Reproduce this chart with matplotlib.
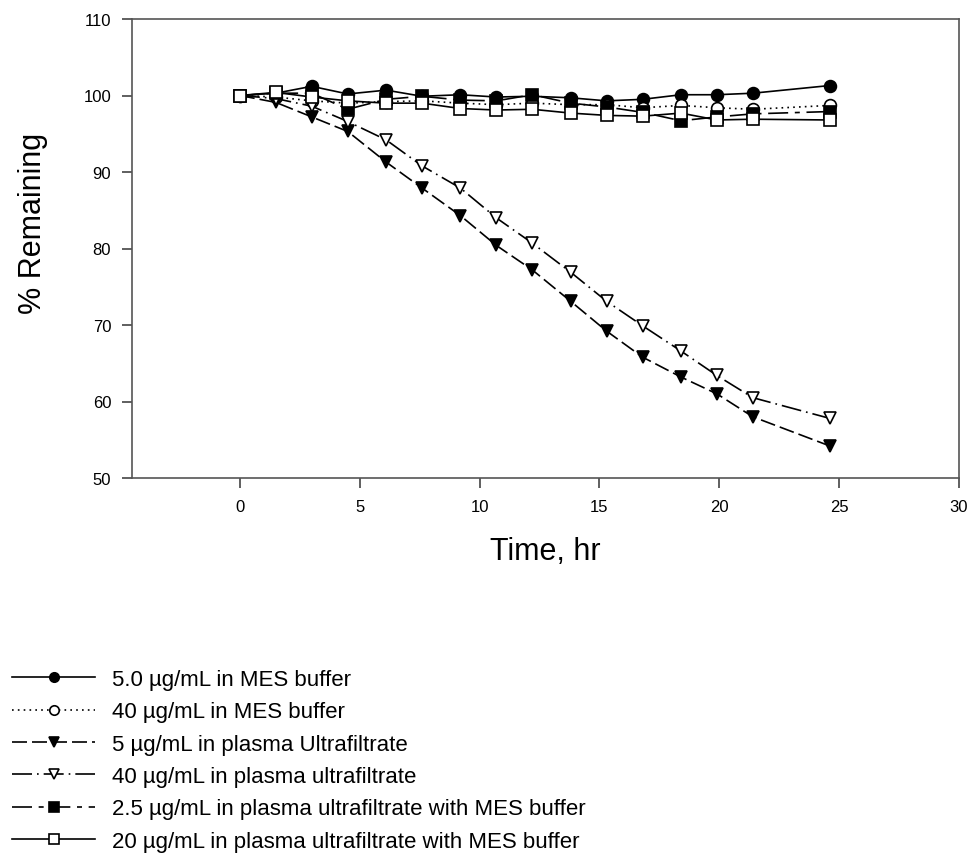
import matplotlib
matplotlib.use("Agg")
import matplotlib.pyplot as plt

plt.rcParams['font.family'] = ['Liberation Sans', 'DejaVu Sans']

time = [0, 1.5, 3.0, 4.5, 6.1, 7.6, 9.2, 10.7, 12.2, 13.8, 15.3, 16.8, 18.4, 19.9, 21.4, 24.6]

mes_5 = [100, 100.3, 101.2, 100.2, 100.7, 99.9, 100.1, 99.8, 99.9, 99.7, 99.3, 99.5, 100.1, 100.1, 100.3, 101.3]
mes_40 = [100, 99.8, 99.3, 99.0, 99.2, 99.3, 99.0, 98.8, 99.0, 98.8, 98.8, 98.4, 98.7, 98.4, 98.2, 98.7]
puf_5 = [100, 99.1, 97.2, 95.3, 91.3, 87.9, 84.3, 80.4, 77.2, 73.1, 69.2, 65.8, 63.2, 61.0, 58.0, 54.2]
puf_40 = [100, 99.6, 98.6, 96.6, 94.2, 90.8, 87.9, 84.0, 80.7, 76.9, 73.1, 69.9, 66.6, 63.4, 60.5, 57.8]
pufmes_25 = [100, 100.3, 100.3, 98.2, 99.5, 99.9, 99.4, 99.3, 100.1, 99.0, 98.5, 97.8, 96.7, 97.2, 97.6, 97.9]
pufmes_20 = [100, 100.4, 99.8, 99.3, 99.0, 99.0, 98.3, 98.1, 98.2, 97.7, 97.4, 97.3, 97.7, 96.8, 96.9, 96.8]

labels = [
    "5.0 \u00b5g/mL in MES buffer",
    "40 \u00b5g/mL in MES buffer",
    "5 \u00b5g/mL in plasma Ultrafiltrate",
    "40 \u00b5g/mL in plasma ultrafiltrate",
    "2.5 \u00b5g/mL in plasma ultrafiltrate with MES buffer",
    "20 \u00b5g/mL in plasma ultrafiltrate with MES buffer",
]
series = [mes_5, mes_40, puf_5, puf_40, pufmes_25, pufmes_20]
styles = [
    dict(marker='o', mfc='black', ls='-'),
    dict(marker='o', mfc='white', ls=(0, (1, 2.5))),
    dict(marker='v', mfc='black', ls=(0, (9, 3))),
    dict(marker='v', mfc='white', ls=(0, (12, 3, 1, 3))),
    dict(marker='s', mfc='black', ls=(0, (12, 4, 3, 4))),
    dict(marker='s', mfc='white', ls='-'),
]

fig = plt.figure(figsize=(9.72, 8.54), dpi=100)
ax = fig.add_axes([132/972, 1-479/854, (959-132)/972, (479-20)/854])

for y, lab, st in zip(series, labels, styles):
    ax.plot(time, y, color='black', lw=1.2, ms=8.5, mec='black', mew=1.2,
            label=lab, **st)

ax.set_xlim(-4.5, 30)
ax.set_ylim(50, 110)
ax.set_xticks([0, 5, 10, 15, 20, 25, 30])
ax.set_yticks([50, 60, 70, 80, 90, 100, 110])
ax.tick_params(direction='out', length=7, width=1.2, labelsize=12, pad=8, color='#444444')
for sp in ax.spines.values():
    sp.set_color('#555555')
    sp.set_linewidth(1.2)

ax.set_xlabel("Time, hr", fontsize=22, labelpad=16)
ax.set_ylabel("% Remaining", fontsize=22)
ax.yaxis.set_label_coords((48-132)/827, (479-223)/459)

handles, labs = ax.get_legend_handles_labels()
fig.legend(handles, labs, loc='upper left', bbox_to_anchor=(12/972, 1-670/854),
           frameon=False, fontsize=16, handlelength=3.74, handletextpad=0.77,
           labelspacing=0.51, markerscale=0.8, borderaxespad=0, borderpad=0)

fig.savefig("out.png", dpi=100)
